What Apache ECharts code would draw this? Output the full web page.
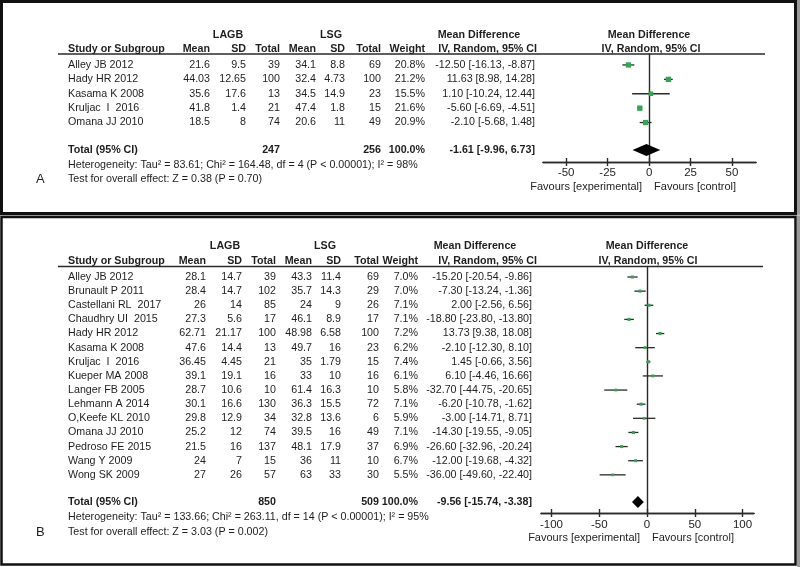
<!DOCTYPE html>
<html><head><meta charset="utf-8">
<script src="https://cdn.jsdelivr.net/npm/echarts@6/dist/echarts.min.js"></script>
<style>html,body{margin:0;padding:0;background:#fff}#c{width:800px;height:567px}</style>
</head><body><div id="c"></div>
<script>
// ---------- Panel A data ----------
const studiesA = ["Alley JB 2012","Hady HR 2012","Kasama K 2008","Kruljac  I  2016","Omana JJ 2010"];
const lagbMeanA = [21.6,44.03,35.6,41.8,18.5];
const lagbSdA   = [9.5,12.65,17.6,1.4,8];
const lagbNA    = [39,100,13,21,74];
const lsgMeanA  = [34.1,32.4,34.5,47.4,20.6];
const lsgSdA    = [8.8,4.73,14.9,1.8,11];
const lsgNA     = [69,100,23,15,49];
const weightA   = [20.8,21.2,15.5,21.6,20.9];
const mdA = [-12.50,11.63,1.10,-5.60,-2.10];
const loA = [-16.13,8.98,-10.24,-6.69,-5.68];
const hiA = [-8.87,14.28,12.44,-4.51,1.48];
const totalA = {n1:247,n2:256,w:100.0,md:-1.61,lo:-9.96,hi:6.73};
const hetA = "Heterogeneity: Tau\u00b2 = 83.61; Chi\u00b2 = 164.48, df = 4 (P < 0.00001); I\u00b2 = 98%";
const testA = "Test for overall effect: Z = 0.38 (P = 0.70)";
const ticksA = [-50,-25,0,25,50];

// ---------- Panel B data ----------
const studiesB = ["Alley JB 2012","Brunault P 2011","Castellani RL  2017","Chaudhry UI  2015","Hady HR 2012","Kasama K 2008","Kruljac  I  2016","Kueper MA 2008","Langer FB 2005","Lehmann A 2014","O,Keefe KL 2010","Omana JJ 2010","Pedroso FE 2015","Wang Y 2009","Wong SK 2009"];
const lagbMeanB = [28.1,28.4,26,27.3,62.71,47.6,36.45,39.1,28.7,30.1,29.8,25.2,21.5,24,27];
const lagbSdB   = [14.7,14.7,14,5.6,21.17,14.4,4.45,19.1,10.6,16.6,12.9,12,16,7,26];
const lagbNB    = [39,102,85,17,100,13,21,16,10,130,34,74,137,15,57];
const lsgMeanB  = [43.3,35.7,24,46.1,48.98,49.7,35,33,61.4,36.3,32.8,39.5,48.1,36,63];
const lsgSdB    = [11.4,14.3,9,8.9,6.58,16,1.79,10,16.3,15.5,13.6,16,17.9,11,33];
const lsgNB     = [69,29,26,17,100,23,15,16,10,72,6,49,37,10,30];
const weightB   = [7.0,7.0,7.1,7.1,7.2,6.2,7.4,6.1,5.8,7.1,5.9,7.1,6.9,6.7,5.5];
const mdB = [-15.20,-7.30,2.00,-18.80,13.73,-2.10,1.45,6.10,-32.70,-6.20,-3.00,-14.30,-26.60,-12.00,-36.00];
const loB = [-20.54,-13.24,-2.56,-23.80,9.38,-12.30,-0.66,-4.46,-44.75,-10.78,-14.71,-19.55,-32.96,-19.68,-49.60];
const hiB = [-9.86,-1.36,6.56,-13.80,18.08,8.10,3.56,16.66,-20.65,-1.62,8.71,-9.05,-20.24,-4.32,-22.40];
const totalB = {n1:850,n2:509,w:100.0,md:-9.56,lo:-15.74,hi:-3.38};
const hetB = "Heterogeneity: Tau\u00b2 = 133.66; Chi\u00b2 = 263.11, df = 14 (P < 0.00001); I\u00b2 = 95%";
const testB = "Test for overall effect: Z = 3.03 (P = 0.002)";
const ticksB = [-100,-50,0,50,100];

// ---------- styling / layout ----------
const FONT = "'Liberation Sans', Arial, sans-serif";
const TXT = '#1e1e1e';
const LINE = '#2a2a2a';
const GREEN = '#30a64e';
const FS = 10.7;

const panels = [
  {studies:studiesA, m1:lagbMeanA, s1:lagbSdA, n1:lagbNA, m2:lsgMeanA, s2:lsgSdA, n2:lsgNA, w:weightA, md:mdA, lo:loA, hi:hiA, tot:totalA, het:hetA, test:testA, ticks:ticksA, letter:'A',
   grid:{left:543, top:54, width:213, height:108}, xmin:-64, xmax:64.5, ymin:-0.76, ymax:6.74, totRow:5.9,
   cols:[210,246,280,316,345,381], weightX:425, ciX:535, ciHeadX:537, lagbC:228, lsgC:331, mdHeadC:479, fHeadC:649, fIvC:651,
   topY:35, headY:49, lineY:54, lineX1:58, lineX2:765, hetY:165, testY:179, favY:187, labelMargin:5},
  {studies:studiesB, m1:lagbMeanB, s1:lagbSdB, n1:lagbNB, m2:lsgMeanB, s2:lsgSdB, n2:lsgNB, w:weightB, md:mdB, lo:loB, hi:hiB, tot:totalB, het:hetB, test:testB, ticks:ticksB, letter:'B',
   grid:{left:541, top:266.5, width:213, height:246.5}, xmin:-111, xmax:112, ymin:-0.743, ymax:16.70, totRow:15.92,
   cols:[206,242,276,312,341,379], weightX:418, ciX:532, ciHeadX:537, lagbC:225, lsgC:325, mdHeadC:475, fHeadC:647, fIvC:648,
   topY:246.5, headY:261.5, lineY:266.5, lineX1:58, lineX2:763, hetY:517.5, testY:532, favY:537.5, labelMargin:6}
];

const grids = [], xAxes = [], yAxes = [], series = [];
panels.forEach((p, pi) => {
  grids.push(Object.assign({containLabel:false}, p.grid));
  const baseX = {
    type:'value', gridIndex:pi, min:p.xmin, max:p.xmax, position:'bottom',
    splitLine:{show:false},
    axisLine:{show:true, onZero:false, lineStyle:{color:LINE, width:1.4}},
  };
  xAxes.push(Object.assign({}, baseX, {
    axisTick:{show:true, inside:true, length:4, customValues:p.ticks, lineStyle:{color:LINE, width:1.4}},
    axisLabel:{show:true, customValues:p.ticks, margin:p.labelMargin, color:TXT, fontFamily:FONT, fontSize:11.5}
  }));
  xAxes.push(Object.assign({}, baseX, {
    axisTick:{show:true, inside:false, length:4, customValues:p.ticks, lineStyle:{color:LINE, width:1.4}},
    axisLabel:{show:false}
  }));
  yAxes.push({
    type:'value', gridIndex:pi, min:p.ymin, max:p.ymax, inverse:true,
    axisLine:{show:true, onZero:true, lineStyle:{color:LINE, width:1.4}},
    axisTick:{show:false}, axisLabel:{show:false}, splitLine:{show:false}
  });
  const studyData = p.md.map((m, i) => [m, i, p.lo[i], p.hi[i], p.w[i]]);
  series.push({
    type:'custom', xAxisIndex:pi*2, yAxisIndex:pi, clip:false, silent:true,
    data: studyData, encode:{x:0, y:1},
    renderItem:(params, api) => {
      const c = api.coord([api.value(0), api.value(1)]);
      const l = api.coord([api.value(2), api.value(1)]);
      const r = api.coord([api.value(3), api.value(1)]);
      const s = 1.15 * Math.sqrt(api.value(4));
      return {type:'group', children:[
        {type:'line', shape:{x1:l[0], y1:c[1], x2:r[0], y2:c[1]}, style:{stroke:LINE, lineWidth:1.3}},
        {type:'rect', shape:{x:c[0]-s/2, y:c[1]-s/2, width:s, height:s}, style:{fill:GREEN}}
      ]};
    }
  });
  series.push({
    type:'custom', xAxisIndex:pi*2, yAxisIndex:pi, clip:false, silent:true,
    data: [[p.tot.md, p.totRow, p.tot.lo, p.tot.hi]], encode:{x:0, y:1},
    renderItem:(params, api) => {
      const c = api.coord([api.value(0), api.value(1)]);
      const l = api.coord([api.value(2), api.value(1)]);
      const r = api.coord([api.value(3), api.value(1)]);
      const h = 6;
      return {type:'polygon', shape:{points:[[l[0],c[1]],[c[0],c[1]-h],[r[0],c[1]],[c[0],c[1]+h]]}, style:{fill:'#000'}};
    }
  });
});

const chart = echarts.init(document.getElementById('c'), null, {renderer:'canvas'});
chart.setOption({
  backgroundColor:'#fff', animation:false,
  grid:grids, xAxis:xAxes, yAxis:yAxes, series:series
});

// ---------- table text ----------
function t(x, y, s, align, bold, size) {
  return {type:'text', x:x, y:y, z:100, silent:true,
    style:{text:String(s), font:(bold?'bold ':'') + (size||FS) + 'px ' + FONT, fill:TXT, align:align||'left', verticalAlign:'middle'}};
}
const ci = (m, l, h) => m.toFixed(2) + ' [' + l.toFixed(2) + ', ' + h.toFixed(2) + ']';
const g = [];
// frames
g.push({type:'rect', z:90, silent:true, shape:{x:1.5, y:1.5, width:794, height:212}, style:{fill:null, stroke:'#111', lineWidth:3}});
g.push({type:'rect', z:90, silent:true, shape:{x:1.5, y:217, width:794, height:347.5}, style:{fill:null, stroke:'#111', lineWidth:2.5}});
g.push({type:'rect', z:89, silent:true, shape:{x:797, y:0, width:3, height:567}, style:{fill:'#9a9a9a'}});
g.push({type:'rect', z:89, silent:true, shape:{x:0, y:214.5, width:800, height:1.5}, style:{fill:'#bdbdbd'}});

panels.forEach((p, pi) => {
  const rowY = i => chart.convertToPixel({xAxisIndex:pi*2, yAxisIndex:pi}, [0, i])[1];
  const zeroX = chart.convertToPixel({xAxisIndex:pi*2, yAxisIndex:pi}, [0, 0])[0];
  // headers
  g.push(t(p.lagbC, p.topY, 'LAGB', 'center', true));
  g.push(t(p.lsgC, p.topY, 'LSG', 'center', true));
  g.push(t(p.mdHeadC, p.topY, 'Mean Difference', 'center', true));
  g.push(t(p.fHeadC, p.topY, 'Mean Difference', 'center', true));
  g.push(t(68, p.headY, 'Study or Subgroup', 'left', true));
  ['Mean','SD','Total','Mean','SD','Total'].forEach((h, k) => g.push(t(p.cols[k], p.headY, h, 'right', true)));
  g.push(t(p.weightX, p.headY, 'Weight', 'right', true));
  g.push(t(p.ciHeadX, p.headY, 'IV, Random, 95% CI', 'right', true));
  g.push(t(p.fIvC, p.headY, 'IV, Random, 95% CI', 'center', true));
  g.push({type:'line', z:95, silent:true, shape:{x1:p.lineX1, y1:p.lineY, x2:p.lineX2, y2:p.lineY}, style:{stroke:LINE, lineWidth:1.4}});
  // rows
  p.studies.forEach((s, i) => {
    const y = rowY(i);
    g.push(t(68, y, s, 'left'));
    [p.m1[i], p.s1[i], p.n1[i], p.m2[i], p.s2[i], p.n2[i]].forEach((v, k) => g.push(t(p.cols[k], y, v, 'right')));
    g.push(t(p.weightX, y, p.w[i].toFixed(1) + '%', 'right'));
    g.push(t(p.ciX, y, ci(p.md[i], p.lo[i], p.hi[i]), 'right'));
  });
  // total
  const ty = rowY(p.totRow);
  g.push(t(68, ty, 'Total (95% CI)', 'left', true));
  g.push(t(p.cols[2], ty, p.tot.n1, 'right', true));
  g.push(t(p.cols[5], ty, p.tot.n2, 'right', true));
  g.push(t(p.weightX, ty, p.tot.w.toFixed(1) + '%', 'right', true));
  g.push(t(p.ciX, ty, ci(p.tot.md, p.tot.lo, p.tot.hi), 'right', true));
  g.push(t(68, p.hetY, p.het, 'left'));
  g.push(t(68, p.testY, p.test, 'left'));
  g.push(t(36, p.testY, p.letter, 'left', false, 13));
  g.push(t(zeroX - 7, p.favY, 'Favours [experimental]', 'right', false, 11));
  g.push(t(zeroX + 5, p.favY, 'Favours [control]', 'left', false, 11));
});
chart.setOption({graphic:{elements:g}});
</script>
</body></html>
